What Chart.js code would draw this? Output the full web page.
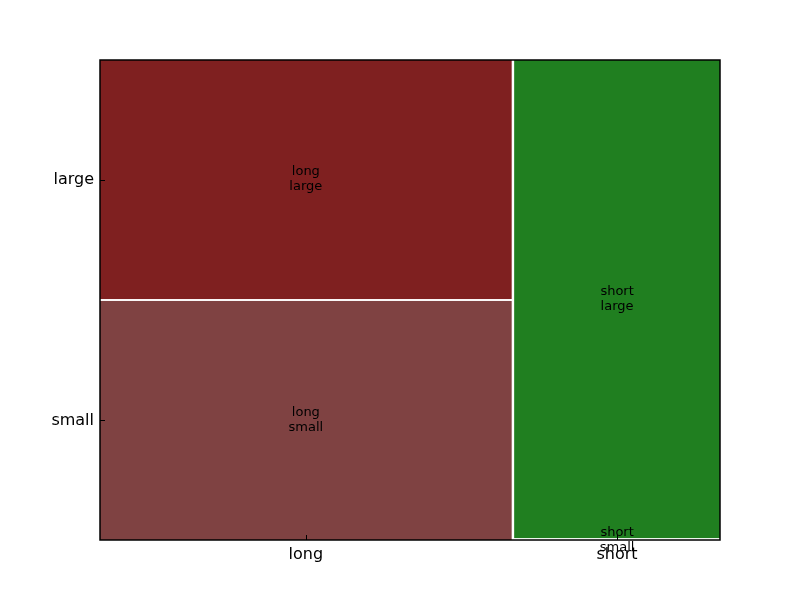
<!DOCTYPE html>
<html>
<head>
<meta charset="utf-8">
<script src="https://cdn.jsdelivr.net/npm/chart.js@4"></script>
<style>
  html, body { margin: 0; padding: 0; background: #fff; }
  #wrap { width: 800px; height: 600px; }
</style>
</head>
<body>
<div id="wrap"><canvas id="mosaicChart" aria-label="Mosaic plot" role="img"></canvas></div>
<script>
// data
const categories = ["long", "short"];
const subcategories = ["large", "small"];
const largeCounts = [50, 50];   // long, short
const smallCounts = [50, 0];

// tile colours [category][subcategory]
const tileColors = [
    ["#7f2020", "#7f4242"],
    ["#207f20", "#42a042"],
];
const gap = 0.004;

// build the mosaic tiles in data units (0..1 on both axes)
function buildTiles() {
    const colTotals = categories.map((c, i) => largeCounts[i] + smallCounts[i]);
    const total = colTotals.reduce((a, b) => a + b, 0);
    const tiles = [];
    let x = 0;
    const usableX = 1 - gap * (categories.length - 1);
    categories.forEach(function (cat, i) {
        const w = usableX * colTotals[i] / total;
        const usableY = 1 - gap;
        const hSmall = usableY * smallCounts[i] / colTotals[i];
        const hLarge = usableY * largeCounts[i] / colTotals[i];
        tiles.push({ cat: i, sub: 1, x0: x, x1: x + w, y0: 0, y1: hSmall });
        tiles.push({ cat: i, sub: 0, x0: x, x1: x + w, y0: hSmall + gap, y1: hSmall + gap + hLarge });
        x += w + gap;
    });
    return tiles;
}
const tiles = buildTiles();
const xTickPos = categories.map((c, i) => {
    const t = tiles.find((t) => t.cat === i);
    return (t.x0 + t.x1) / 2;
});
const yTickPos = subcategories.map((s, j) => {
    const t = tiles.find((t) => t.cat === 0 && t.sub === j);
    return (t.y0 + t.y1) / 2;
});

const mosaicPlugin = {
    id: "mosaic",
    beforeDatasetsDraw: function (chart) {
        const ctx = chart.ctx;
        const xs = chart.scales.x, ys = chart.scales.y;
        const area = chart.chartArea;
        ctx.save();
        tiles.forEach(function (t) {
            const left = xs.getPixelForValue(t.x0), right = xs.getPixelForValue(t.x1);
            const top = ys.getPixelForValue(t.y1), bottom = ys.getPixelForValue(t.y0);
            ctx.fillStyle = tileColors[t.cat][t.sub];
            ctx.fillRect(left, top, right - left, bottom - top);
        });
        // tile labels
        ctx.fillStyle = "#000";
        ctx.font = "13px 'DejaVu Sans'";
        ctx.textAlign = "center";
        ctx.textBaseline = "middle";
        tiles.forEach(function (t) {
            const cx = xs.getPixelForValue((t.x0 + t.x1) / 2);
            const cy = ys.getPixelForValue((t.y0 + t.y1) / 2);
            ctx.fillText(categories[t.cat], cx, cy - 7.5);
            ctx.fillText(subcategories[t.sub], cx, cy + 7.5);
        });
        // frame
        ctx.strokeStyle = "#000";
        ctx.lineWidth = 1.5;
        ctx.strokeRect(area.left, area.top, area.right - area.left, area.bottom - area.top);
        // inward ticks
        ctx.lineWidth = 1;
        ctx.beginPath();
        xTickPos.forEach(function (v) {
            const px = Math.round(xs.getPixelForValue(v)) + 0.5;
            ctx.moveTo(px, area.bottom);
            ctx.lineTo(px, area.bottom - 5);
        });
        yTickPos.forEach(function (v) {
            const py = Math.round(ys.getPixelForValue(v)) + 0.5;
            ctx.moveTo(area.left, py);
            ctx.lineTo(area.left + 5, py);
        });
        ctx.stroke();
        ctx.restore();
    },
};

new Chart(document.getElementById("mosaicChart").getContext("2d"), {
    type: "scatter",
    data: { datasets: [{ data: [] }] },
    plugins: [mosaicPlugin],
    options: {
        responsive: true,
        maintainAspectRatio: false,
        animation: false,
        layout: { padding: { top: 60, right: 80, left: 0, bottom: 0 } },
        plugins: { legend: { display: false }, tooltip: { enabled: false } },
        scales: {
            x: {
                type: "linear", min: 0, max: 1,
                grid: { display: false, drawTicks: false },
                border: { display: false },
                afterBuildTicks: function (scale) {
                    scale.ticks = xTickPos.map((v) => ({ value: v }));
                },
                afterFit: function (scale) { scale.height = 60; },
                ticks: {
                    autoSkip: false, maxRotation: 0, padding: 5,
                    color: "#000",
                    font: { family: "'DejaVu Sans'", size: 16 },
                    callback: function (v, i) { return categories[i]; },
                },
            },
            y: {
                type: "linear", min: 0, max: 1,
                grid: { display: false, drawTicks: false },
                border: { display: false },
                afterBuildTicks: function (scale) {
                    scale.ticks = yTickPos.map((v) => ({ value: v }));
                },
                afterFit: function (scale) { scale.width = 100; },
                ticks: {
                    autoSkip: false, padding: 6,
                    color: "#000",
                    font: { family: "'DejaVu Sans'", size: 16 },
                    callback: function (v, i) { return subcategories[i]; },
                },
            },
        },
    },
});
</script>
</body>
</html>
